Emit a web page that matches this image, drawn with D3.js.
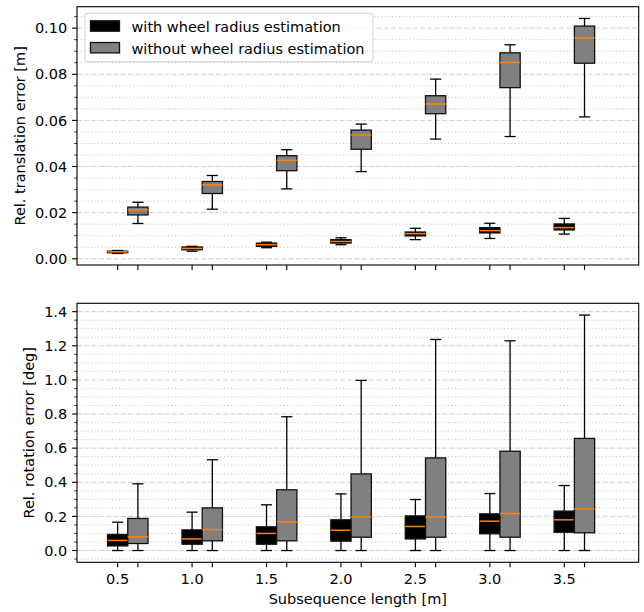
<!DOCTYPE html>
<html>
<head>
<meta charset="utf-8">
<script src="https://cdn.jsdelivr.net/npm/d3@7"></script>
<style>
  html, body { margin: 0; padding: 0; background: #fff; }
  svg { display: block; font-family: "DejaVu Sans", sans-serif; }
</style>
</head>
<body>
<svg id="chart" width="644" height="612"></svg>
<script>
// ---------------- data ----------------
const lengths = [0.5, 1.0, 1.5, 2.0, 2.5, 3.0, 3.5];
const tickLabels = ["0.5", "1.0", "1.5", "2.0", "2.5", "3.0", "3.5"];
const seriesNames = ["with wheel radius estimation", "without wheel radius estimation"];

// translation error [m]: [whiskerLow, Q1, median, Q3, whiskerHigh]
const transWith = [
  [0.0023, 0.0026, 0.0030, 0.0033, 0.0036],
  [0.0033, 0.0039, 0.0045, 0.0051, 0.0054],
  [0.0048, 0.0054, 0.0061, 0.0068, 0.0072],
  [0.0061, 0.0068, 0.0075, 0.0083, 0.0091],
  [0.0083, 0.0099, 0.0109, 0.0116, 0.0132],
  [0.0088, 0.0112, 0.0122, 0.0135, 0.0154],
  [0.0107, 0.0125, 0.0135, 0.0151, 0.0175]
];
const transWithout = [
  [0.0153, 0.0190, 0.0212, 0.0224, 0.0245],
  [0.0215, 0.0283, 0.0320, 0.0335, 0.0361],
  [0.0303, 0.0382, 0.0427, 0.0447, 0.0473],
  [0.0378, 0.0475, 0.0537, 0.0558, 0.0584],
  [0.0519, 0.0629, 0.0671, 0.0707, 0.0779],
  [0.0530, 0.0742, 0.0851, 0.0893, 0.0928],
  [0.0615, 0.0848, 0.0958, 0.1009, 0.1042]
];
// rotation error [deg]
const rotWith = [
  [0.0, 0.027, 0.059, 0.094, 0.166],
  [0.0, 0.037, 0.068, 0.121, 0.225],
  [0.0, 0.037, 0.100, 0.139, 0.268],
  [0.0, 0.055, 0.119, 0.180, 0.332],
  [0.0, 0.068, 0.141, 0.203, 0.299],
  [0.0, 0.098, 0.172, 0.215, 0.334],
  [0.0, 0.107, 0.180, 0.231, 0.381]
];
const rotWithout = [
  [0.0, 0.041, 0.080, 0.188, 0.391],
  [0.0, 0.057, 0.123, 0.250, 0.532],
  [0.0, 0.057, 0.168, 0.356, 0.784],
  [0.0, 0.078, 0.197, 0.449, 0.997],
  [0.0, 0.078, 0.197, 0.543, 1.237],
  [0.0, 0.078, 0.217, 0.582, 1.229],
  [0.0, 0.104, 0.244, 0.657, 1.380]
];
const transTicks = [0.00, 0.02, 0.04, 0.06, 0.08, 0.10];
const rotTicks = [0.0, 0.2, 0.4, 0.6, 0.8, 1.0, 1.2, 1.4];

// ---------------- layout ----------------
const svg = d3.select("#chart");
const X0 = 77, X1 = 638.7;
const FS = 14.5;
const colors = ["#000000", "#808080"];
const offset = 0.136;     // position offset of second series (x units)
const boxW = 0.136;       // box width (x units)

const x = d3.scaleLinear().domain([0.227, 4.0]).range([X0, X1]);

const panels = [
  { top: 6.7, bottom: 265, domain: [-0.0027, 0.1093], ticks: transTicks, minorStep: 0.005,
    fmt: d3.format(".2f"), data: [transWith, transWithout], ylabel: "Rel. translation error [m]",
    ylabelX: 24.5, showXLabels: false },
  { top: 303.3, bottom: 562.3, domain: [-0.069, 1.449], ticks: rotTicks, minorStep: 0.05,
    fmt: d3.format(".1f"), data: [rotWith, rotWithout], ylabel: "Rel. rotation error [deg]",
    ylabelX: 33.5, showXLabels: true }
];

panels.forEach(p => {
  const y = d3.scaleLinear().domain(p.domain).range([p.bottom, p.top]);
  const g = svg.append("g");

  // minor grid
  const minors = d3.range(Math.ceil(p.domain[0] / p.minorStep), Math.floor(p.domain[1] / p.minorStep) + 1)
    .map(k => k * p.minorStep)
    .filter(v => !p.ticks.some(t => Math.abs(t - v) < 1e-9));
  g.append("g").selectAll("line").data(minors).join("line")
    .attr("x1", X0).attr("x2", X1)
    .attr("y1", d => y(d)).attr("y2", d => y(d))
    .attr("stroke", "#c4c4c4").attr("stroke-width", 0.9)
    .attr("stroke-dasharray", "1.2,2.3");
  // major grid
  g.append("g").selectAll("line").data(p.ticks).join("line")
    .attr("x1", X0).attr("x2", X1)
    .attr("y1", d => y(d)).attr("y2", d => y(d))
    .attr("stroke", "#cfcfcf").attr("stroke-width", 1)
    .attr("stroke-dasharray", "5.1,2.2");

  // boxes
  const px = d3.scaleLinear().domain([0, 1]).range([0, x(1) - x(0)]);
  const wpx = px(boxW);
  p.data.forEach((series, si) => {
    const sg = g.append("g");
    series.forEach((s, i) => {
      const cx = x(lengths[i] + si * offset);
      const [lo, q1, med, q3, hi] = s;
      const cap = wpx / 2;
      // whiskers
      sg.append("line").attr("x1", cx).attr("x2", cx).attr("y1", y(q3)).attr("y2", y(hi))
        .attr("stroke", "#000").attr("stroke-width", 1.3);
      sg.append("line").attr("x1", cx).attr("x2", cx).attr("y1", y(q1)).attr("y2", y(lo))
        .attr("stroke", "#000").attr("stroke-width", 1.3);
      // caps
      [lo, hi].forEach(v => {
        sg.append("line").attr("x1", cx - cap / 2 - 0.5).attr("x2", cx + cap / 2 + 0.5)
          .attr("y1", y(v)).attr("y2", y(v))
          .attr("stroke", "#000").attr("stroke-width", 1.3);
      });
      // box
      sg.append("rect").attr("x", cx - wpx / 2).attr("width", wpx)
        .attr("y", y(q3)).attr("height", Math.max(0.5, y(q1) - y(q3)))
        .attr("fill", colors[si]).attr("stroke", "#111").attr("stroke-width", 1.3);
      // median
      sg.append("line").attr("x1", cx - wpx / 2).attr("x2", cx + wpx / 2)
        .attr("y1", y(med)).attr("y2", y(med))
        .attr("stroke", "#ff7f0e").attr("stroke-width", 1.5);
    });
  });

  // frame
  g.append("rect").attr("x", X0).attr("y", p.top).attr("width", X1 - X0).attr("height", p.bottom - p.top)
    .attr("fill", "none").attr("stroke", "#000").attr("stroke-width", 1.1);

  // y ticks
  const yt = g.append("g");
  yt.selectAll("line.major").data(p.ticks).join("line").attr("class", "major")
    .attr("x1", X0 - 4.9).attr("x2", X0).attr("y1", d => y(d)).attr("y2", d => y(d))
    .attr("stroke", "#000").attr("stroke-width", 1.1);
  yt.selectAll("line.minor").data(minors).join("line").attr("class", "minor")
    .attr("x1", X0 - 2.8).attr("x2", X0).attr("y1", d => y(d)).attr("y2", d => y(d))
    .attr("stroke", "#000").attr("stroke-width", 0.8);
  yt.selectAll("text").data(p.ticks).join("text")
    .attr("x", X0 - 9.8).attr("y", d => y(d)).attr("dy", "0.36em")
    .attr("text-anchor", "end").attr("font-size", FS).attr("fill", "#000")
    .text(d => p.fmt(d));

  // x ticks
  const xtVals = [];
  lengths.forEach((L, i) => { xtVals.push({ v: L, lab: tickLabels[i] }); xtVals.push({ v: L + offset, lab: "" }); });
  const xt = g.append("g");
  xt.selectAll("line").data(xtVals).join("line")
    .attr("x1", d => x(d.v)).attr("x2", d => x(d.v))
    .attr("y1", p.bottom).attr("y2", p.bottom + 4.9)
    .attr("stroke", "#000").attr("stroke-width", 1.1);
  if (p.showXLabels) {
    xt.selectAll("text").data(xtVals.filter(d => d.lab)).join("text")
      .attr("x", d => x(d.v)).attr("y", 584.3)
      .attr("text-anchor", "middle").attr("font-size", FS).attr("fill", "#000")
      .text(d => d.lab);
    g.append("text").attr("x", (X0 + X1) / 2).attr("y", 603.5)
      .attr("text-anchor", "middle").attr("font-size", FS).attr("fill", "#000")
      .text("Subsequence length [m]");
  }

  // y label
  g.append("text")
    .attr("transform", `translate(${p.ylabelX},${(p.top + p.bottom) / 2}) rotate(-90)`)
    .attr("text-anchor", "middle").attr("font-size", FS).attr("fill", "#000")
    .text(p.ylabel);
});

// legend
const lg = svg.append("g");
lg.append("rect").attr("x", 85).attr("y", 13.3).attr("width", 288).attr("height", 48.4)
  .attr("rx", 3).attr("fill", "#fff").attr("fill-opacity", 0.8)
  .attr("stroke", "#d0d0d0").attr("stroke-width", 1);
seriesNames.forEach((name, i) => {
  const cy = 26 + i * 21.7;
  lg.append("rect").attr("x", 90.5).attr("y", cy - 5.2).attr("width", 29).attr("height", 10.4)
    .attr("fill", colors[i]).attr("stroke", "#111").attr("stroke-width", 1.3);
  lg.append("text").attr("x", 131.5).attr("y", cy + 6).attr("font-size", FS).attr("fill", "#000")
    .text(name);
});
</script>
</body>
</html>
